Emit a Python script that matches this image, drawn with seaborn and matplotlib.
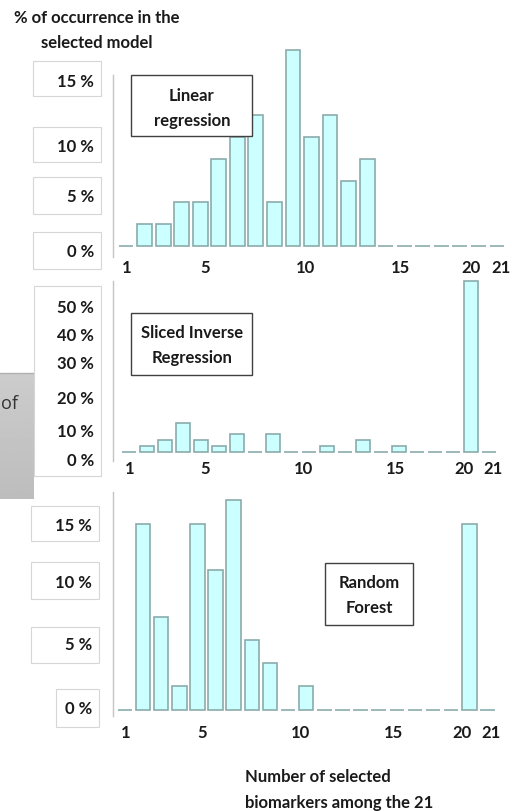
import matplotlib
matplotlib.use("Agg")
import matplotlib.pyplot as plt
from matplotlib.patches import Rectangle
import numpy as np
import pandas as pd
import seaborn as sns

# ---- data -------------------------------------------------------------
n_selected = list(range(1, 22))
linear_regression = [0, 2, 2, 4, 4, 8, 10, 12, 4, 18, 10, 12, 6, 8, 0, 0, 0, 0, 0, 0, 0]
sliced_inverse = [0, 2, 4, 10, 4, 2, 6, 0, 6, 0, 0, 2, 0, 4, 0, 2, 0, 0, 0, 58, 0]
random_forest = [0, 16, 8, 2, 16, 12, 18, 6, 4, 0, 2, 0, 0, 0, 0, 0, 0, 0, 0, 16, 0]

x_tick_labels = ["1", "5", "10", "15", "20", "21"]
lr_pct_labels = ["15 %", "10 %", "5 %", "0 %"]
sir_pct_labels = ["50 %", "40 %", "30 %", "20 %", "10 %", "0 %"]
rf_pct_labels = ["15 %", "10 %", "5 %", "0 %"]
method_names = ["Linear\nregression", "Sliced Inverse\nRegression", "Random\nForest"]

# ---- styling ----------------------------------------------------------
sns.set_theme(style="white")
plt.rcParams["font.family"] = ["Lato", "DejaVu Sans"]
BAR_FILL = "#ccffff"
BAR_EDGE = "#8aabab"
TXT = "#1a1a1a"
FS = 12

W, H = 512, 812
fig = plt.figure(figsize=(W / 100, H / 100), dpi=100)
fig.patch.set_facecolor("white")


def fx(x):
    return x / W


def fy(y):
    return 1 - y / H


def box(x0, y0, x1, y1, ec="#d6d6d6", lw=0.8, z=5):
    r = Rectangle((fx(x0), fy(y1)), (x1 - x0) / W, (y1 - y0) / H,
                  transform=fig.transFigure, facecolor="white",
                  edgecolor=ec, linewidth=lw, zorder=z)
    fig.add_artist(r)


def label(x, y, s, ha="center", size=FS, weight="bold", z=6, **kw):
    fig.text(fx(x), fy(y), s, ha=ha, va="center", fontsize=size,
             fontweight=weight, color=TXT, zorder=z, **kw)


# tick label positions along the category axis
x_tick_pos = [1.05, 5.25, 10.7, 15.8, 19.6, 21.2]


def panel(values, top, bottom, pos1, step, base, ppu, spine_top, spine_bot):
    left, right = 113, 512
    ax = fig.add_axes([fx(left), fy(bottom), (right - left) / W, (bottom - top) / H])
    df = pd.DataFrame({"n": n_selected, "pct": values})
    sns.barplot(data=df, x="n", y="pct", native_scale=True, width=0.8,
                color=BAR_FILL, saturation=1, edgecolor=BAR_EDGE,
                linewidth=1.2, ax=ax)
    ax.set_xlim(1 - (pos1 - left) / step, 1 + (right - pos1) / step)
    ax.set_ylim(-(bottom - base) / ppu, (base - top) / ppu)
    for s in ("top", "right", "bottom"):
        ax.spines[s].set_visible(False)
    ax.spines["left"].set_color("#c4c4c4")
    ax.spines["left"].set_linewidth(1.0)
    ax.spines["left"].set_bounds((base - spine_bot) / ppu, (base - spine_top) / ppu)
    ax.set_xticks(x_tick_pos, x_tick_labels)
    ax.set_yticks([])
    ax.tick_params(axis="x", length=0, pad=0, labelsize=FS, labelcolor=TXT)
    for t in ax.get_xticklabels():
        t.set_fontweight("bold")
    ax.set_xlabel("")
    ax.set_ylabel("")
    ax.patch.set_alpha(0)
    return ax


panel(linear_regression, 40, 260, 126, 18.55, 247, 10.9, 76, 258)
panel(sliced_inverse, 275, 461, 129, 18.0, 453, 2.95, 282, 462)
panel(random_forest, 488, 725, 125, 18.12, 710.7, 11.63, 493, 717)

# grey side block with its short label
gax = fig.add_axes([0, fy(500), 34 / W, (500 - 374) / H])
grad = np.linspace(0.80, 0.74, 100).reshape(-1, 1)
gax.imshow(grad, aspect="auto", cmap="gray", vmin=0, vmax=1,
           extent=[0, 1, 0, 1])
gax.set_axis_off()
fig.add_artist(plt.Line2D([0, fx(34)], [fy(374), fy(374)],
                          transform=fig.transFigure, color="#b0b0b0", lw=1, zorder=4))
fig.text(fx(1), fy(404), "of", ha="left", va="center", fontsize=13,
         color="#333333", family=["Open Sans", "DejaVu Sans"], zorder=4)

# percentage scale boxes
lr_boxes = [(62, 97, 82), (128, 163, 147), (178, 215, 197), (233, 270, 252)]
for (y0, y1, yc), s in zip(lr_boxes, lr_pct_labels):
    box(33, y0, 101, y1)
    label(94, yc, s, ha="right")

box(34, 287, 101, 477)
sir_y = [308, 336, 364, 399, 432, 461]
for yc, s in zip(sir_y, sir_pct_labels):
    label(94, yc, s, ha="right")

rf_boxes = [(31, 507, 542, 526), (31, 563, 600, 583), (31, 628, 664, 645), (56, 690, 728, 709)]
for (x0, y0, y1, yc), s in zip(rf_boxes, rf_pct_labels):
    box(x0, y0, 99, y1)
    label(92, yc, s, ha="right")

# method name boxes
name_boxes = [(131, 76, 252, 137, 192, 96), (131, 314, 252, 376, 192, 333),
              (325, 564, 413, 626, 369, 583)]
for (x0, y0, x1, y1, xc, yt), s in zip(name_boxes, method_names):
    box(x0, y0, x1, y1, ec="#404040", lw=1.0, z=7)
    a, b = s.split("\n")
    label(xc, yt, a, z=8)
    label(xc, yt + 25, b, z=8)

# axis titles
label(97, 18, "% of occurrence in the")
label(97, 43, "selected model")
label(245, 777, "Number of selected", ha="left")
label(245, 803, "biomarkers among the 21", ha="left")

fig.savefig("out.png", dpi=100, facecolor="white")
